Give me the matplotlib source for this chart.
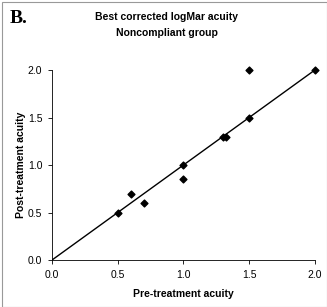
import matplotlib
matplotlib.use("Agg")
import matplotlib.pyplot as plt
from matplotlib.patches import Rectangle

# ── Data ──────────────────────────────────────────────────────────────────────
pre_acuity  = [0.5, 0.6, 0.7, 1.0, 1.0, 1.3, 1.32, 1.5, 1.5, 2.0]
post_acuity = [0.5, 0.7, 0.6, 1.0, 0.85, 1.3, 1.3, 1.5, 2.0, 2.0]
line_x = [0.0, 2.0]
line_y = [0.0, 2.0]
ticks = [0.0, 0.5, 1.0, 1.5, 2.0]

plt.rcParams["font.family"] = ["Liberation Sans", "DejaVu Sans"]

fig = plt.figure(figsize=(3.27, 3.07), dpi=100)
fig.patch.set_facecolor("white")
ax = fig.add_axes([0.159, 0.153, 0.804, 0.619])

ax.plot(line_x, line_y, color="black", linewidth=1.0)
ax.scatter(pre_acuity, post_acuity, marker="D", s=12, color="black",
           zorder=3, clip_on=False)

ax.set_xlim(0, 2.0)
ax.set_ylim(0, 2.0)
ax.set_xticks(ticks)
ax.set_yticks(ticks)
ax.set_xticklabels([f"{t:.1f}" for t in ticks], fontsize=7.5)
ax.set_yticklabels([f"{t:.1f}" for t in ticks], fontsize=7.5)
ax.tick_params(direction="out", length=3, width=0.6, pad=4)
ax.spines["top"].set_visible(False)
ax.spines["right"].set_visible(False)
ax.spines["left"].set_linewidth(0.6)
ax.spines["bottom"].set_linewidth(0.6)

ax.set_xlabel("Pre-treatment acuity", fontsize=7.5, fontweight="bold", labelpad=7)
ax.set_ylabel("Post-treatment acuity", fontsize=7.5, fontweight="bold", labelpad=1)

fig.text(0.51, 0.918, "Best corrected logMar acuity\nNoncompliant group",
         ha="center", va="center", fontsize=7.5, fontweight="bold", linespacing=1.7)
fig.text(0.03, 0.94, "B.", ha="left", va="center", fontsize=14,
         fontweight="bold", family=["Liberation Serif", "DejaVu Serif"])

# thin frame round the figure
fig.patches.append(Rectangle((0.006, 0.0), 0.994, 0.993, transform=fig.transFigure,
                             fill=False, edgecolor="#999999", linewidth=0.8))

plt.savefig("out.png", dpi=100, facecolor="white")
plt.close()
